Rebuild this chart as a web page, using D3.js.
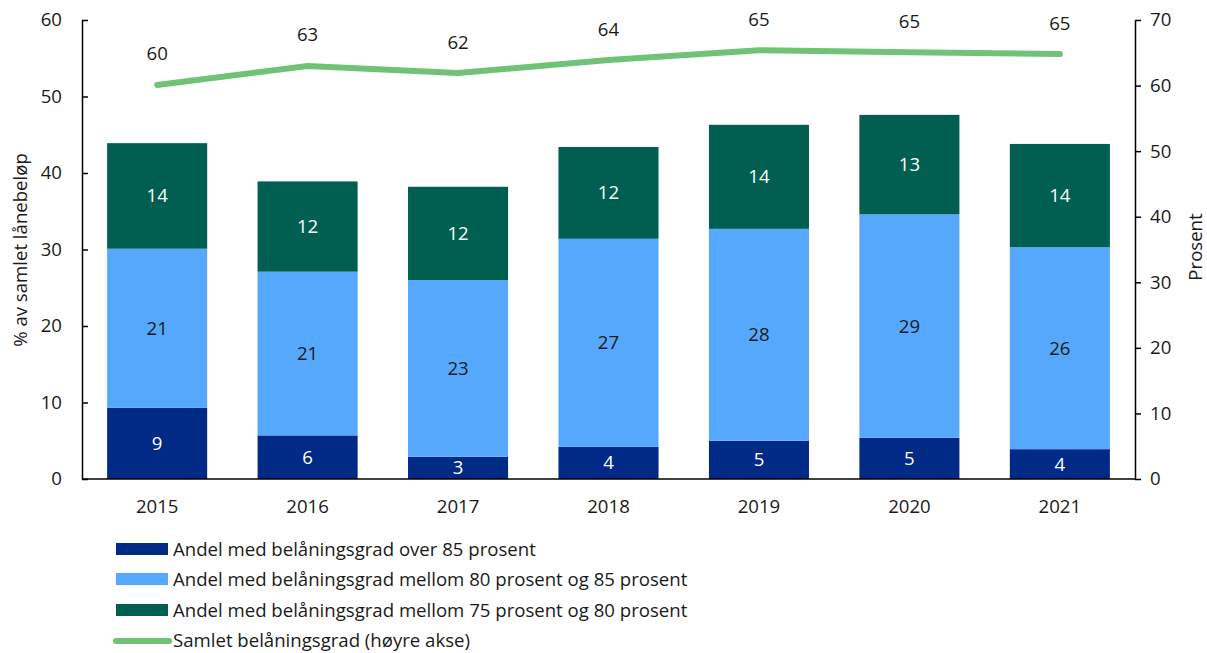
<!DOCTYPE html>
<html><head><meta charset="utf-8">
<script src="https://cdn.jsdelivr.net/npm/d3@7"></script>
<style>body{margin:0;background:#fff}svg{display:block;font-family:"Open Sans","Noto Sans",sans-serif}</style>
</head><body><svg id="c" width="1207" height="653"></svg>
<script>
const years = ["2015","2016","2017","2018","2019","2020","2021"];
const over85 = [9.3, 5.7, 2.9, 4.2, 5.0, 5.4, 3.9];
const mid80to85 = [20.8, 21.4, 23.1, 27.2, 27.7, 29.2, 26.4];
const mid75to80 = [13.8, 11.8, 12.2, 12.0, 13.6, 13.0, 13.5];
const total = [60.1, 63.0, 61.9, 63.9, 65.4, 65.1, 64.8];
const leftTicks = [0,10,20,30,40,50,60];
const rightTicks = [0,10,20,30,40,50,60,70];
const seriesNames = ["Andel med belåningsgrad over 85 prosent","Andel med belåningsgrad mellom 80 prosent og 85 prosent","Andel med belåningsgrad mellom 75 prosent og 80 prosent"];
const lineName = "Samlet belåningsgrad (høyre akse)";
const colors = ["#002a85","#56a8fc","#005f50"];
const lineColor = "#71c276";
const labelColors = ["#ffffff","#1a1a1a","#ffffff"];
const FS = 18.6;

const svg = d3.select("#c");
const L = 82, R = 1135, T = 20, B = 479;
const x = d3.scaleBand().domain(years).range([L, R]).paddingInner(0.335).paddingOuter(0.167);
const yL = d3.scaleLinear().domain([0,60]).range([B,T]);
const yR = d3.scaleLinear().domain([0,70]).range([B,T]);

const data = years.map((y,i)=>({year:y, a:over85[i], b:mid80to85[i], c:mid75to80[i]}));
const stack = d3.stack().keys(["a","b","c"])(data);

const g = svg.append("g");
stack.forEach((s,si)=>{
  g.selectAll(null).data(s).enter().append("rect")
    .attr("x", d=>x(d.data.year)).attr("width", x.bandwidth())
    .attr("y", d=>yL(d[1])).attr("height", d=>yL(d[0])-yL(d[1]))
    .attr("fill", colors[si]);
  g.selectAll(null).data(s).enter().append("text")
    .attr("x", d=>x(d.data.year)+x.bandwidth()/2)
    .attr("y", d=>(yL(d[0])+yL(d[1]))/2)
    .attr("dy","0.35em").attr("text-anchor","middle")
    .attr("font-size",FS).attr("fill",labelColors[si])
    .text(d=>Math.round(d[1]-d[0]));
});

// axes
const axL = svg.append("g").attr("transform",`translate(${L},0)`)
  .call(d3.axisLeft(yL).tickValues(leftTicks).tickSize(-6).tickPadding(20).tickSizeOuter(0));
const axR = svg.append("g").attr("transform",`translate(${R},0)`)
  .call(d3.axisRight(yR).tickValues(rightTicks).tickSize(6).tickPadding(9).tickSizeOuter(0));
const axX = svg.append("g").attr("transform",`translate(0,${B})`)
  .call(d3.axisBottom(x).tickSize(0).tickPadding(21));
[axL,axR,axX].forEach(a=>{
  a.selectAll("text").attr("font-size",FS).attr("fill","#1a1a1a").attr("font-family","'Open Sans','Noto Sans',sans-serif");
  a.selectAll("line").attr("stroke","#000").attr("stroke-width",1.5);
  a.select(".domain").attr("stroke","#000").attr("stroke-width",1.5);
});
axX.select(".domain").attr("d",`M${L},0H${R}`);

// line
const line = d3.line().x((d,i)=>x(years[i])+x.bandwidth()/2).y(d=>yR(d));
svg.append("path").datum(total).attr("d",line).attr("fill","none")
  .attr("stroke",lineColor).attr("stroke-width",6).attr("stroke-linecap","round").attr("stroke-linejoin","round");
svg.selectAll(null).data(total).enter().append("text")
  .attr("x",(d,i)=>x(years[i])+x.bandwidth()/2).attr("y",d=>yR(d)-31)
  .attr("dy","0.35em").attr("text-anchor","middle").attr("font-size",FS).attr("fill","#1a1a1a")
  .text(d=>Math.round(d));

// axis titles
svg.append("text").attr("transform","translate(27,250) rotate(-90)").attr("text-anchor","middle")
  .attr("font-size",FS).attr("fill","#1a1a1a").text("% av samlet lånebeløp");
svg.append("text").attr("transform","translate(1202,247) rotate(-90)").attr("text-anchor","middle")
  .attr("font-size",FS).attr("fill","#1a1a1a").text("Prosent");

// legend
const lg = svg.append("g");
const rowsY = [549,579,610,640];
seriesNames.forEach((n,i)=>{
  lg.append("rect").attr("x",116).attr("y",rowsY[i]-6).attr("width",52).attr("height",12).attr("fill",colors[i]);
  lg.append("text").attr("x",173).attr("y",rowsY[i]).attr("dy","0.35em").attr("font-size",FS).attr("fill","#1a1a1a").text(n);
});
lg.append("line").attr("x1",116).attr("x2",169).attr("y1",rowsY[3]+1).attr("y2",rowsY[3]+1)
  .attr("stroke",lineColor).attr("stroke-width",6).attr("stroke-linecap","round");
lg.append("text").attr("x",173).attr("y",rowsY[3]).attr("dy","0.35em").attr("font-size",FS).attr("fill","#1a1a1a").text(lineName);
</script></body></html>
